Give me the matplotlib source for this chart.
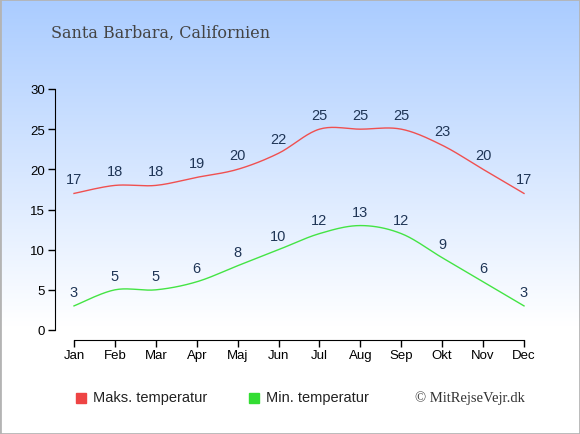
import numpy as np
import matplotlib
matplotlib.use("Agg")
import matplotlib.pyplot as plt
from matplotlib.colors import LinearSegmentedColormap
from matplotlib.patches import Rectangle

months = ["Jan", "Feb", "Mar", "Apr", "Maj", "Jun", "Jul", "Aug", "Sep", "Okt", "Nov", "Dec"]
max_temp = [17, 18, 18, 19, 20, 22, 25, 25, 25, 23, 20, 17]
min_temp = [3, 5, 5, 6, 8, 10, 12, 13, 12, 9, 6, 3]
y_ticks = [0, 5, 10, 15, 20, 25, 30]
title = "Santa Barbara, Californien"
legend_labels = ["Maks. temperatur", "Min. temperatur"]
credit = "© MitRejseVejr.dk"

plt.rcParams["font.family"] = ["Liberation Sans", "DejaVu Sans"]

W, H = 580, 435
fig = plt.figure(figsize=(W / 100, H / 100), dpi=100)

# background gradient
bg = fig.add_axes([0, 0, 1, 1], zorder=-10)
grad = np.linspace(0, 1, 256).reshape(-1, 1)
cmap = LinearSegmentedColormap.from_list("bg", [(0, "#aaccff"), (0.75, "#ffffff"), (1, "#ffffff")])
bg.imshow(grad, aspect="auto", cmap=cmap, extent=[0, 1, 0, 1], origin="upper")
bg.add_patch(Rectangle((0, 0), 1, 1, transform=bg.transAxes, fill=False, edgecolor="#b4b4b4", lw=2))
bg.set_xlim(0, 1); bg.set_ylim(0, 1)
bg.axis("off")


def smooth(xs, ys, n=20, tension=0.5):
    xs = np.asarray(xs, float); ys = np.asarray(ys, float)
    px = np.concatenate([[xs[0]], xs, [xs[-1]]])
    py = np.concatenate([[ys[0]], ys, [ys[-1]]])
    ox, oy = [], []
    for i in range(1, len(px) - 2):
        x0, x1, x2, x3 = px[i - 1:i + 3]
        y0, y1, y2, y3 = py[i - 1:i + 3]
        t = np.linspace(0, 1, n, endpoint=False)
        m1x, m2x = tension * (x2 - x0), tension * (x3 - x1)
        m1y, m2y = tension * (y2 - y0), tension * (y3 - y1)
        h00 = 2 * t**3 - 3 * t**2 + 1
        h10 = t**3 - 2 * t**2 + t
        h01 = -2 * t**3 + 3 * t**2
        h11 = t**3 - t**2
        ox.extend(h00 * x1 + h10 * m1x + h01 * x2 + h11 * m2x)
        oy.extend(h00 * y1 + h10 * m1y + h01 * y2 + h11 * m2y)
    ox.append(xs[-1]); oy.append(ys[-1])
    return np.array(ox), np.array(oy)


left_px, right_px, top_px, bot_px = 55, 535, 90, 341
ax = fig.add_axes([left_px / W, (H - bot_px) / H, (right_px - left_px) / W, (bot_px - top_px) / H])
ax.patch.set_alpha(0)
x = np.arange(len(months))
xscale = (524 - 74) / 11
ax.set_xlim(-(74 - left_px) / xscale, (right_px - 74) / xscale)
yscale = (331 - 90) / 30
ax.set_ylim(-(bot_px - 331) / yscale, 30)

red = "#ee4444"
green = "#33dd33"
sx, sy = smooth(x, max_temp)
ax.plot(sx, sy, color="#f05050", lw=1)
sx, sy = smooth(x, min_temp)
ax.plot(sx, sy, color="#44e444", lw=1)

lab_col = "#1f3556"
for xi, v in zip(x, max_temp):
    ax.annotate(str(v), (xi, v), xytext=(0, 5), textcoords="offset points", ha="center", va="bottom",
                fontsize=10.5, color=lab_col)
for xi, v in zip(x, min_temp):
    ax.annotate(str(v), (xi, v), xytext=(0, 5), textcoords="offset points", ha="center", va="bottom",
                fontsize=10.5, color=lab_col)

for s in ["top", "right"]:
    ax.spines[s].set_visible(False)
ax.spines["left"].set_bounds(0, 30)
ax.spines["bottom"].set_bounds(0, 11)
ax.set_xticks(x)
ax.set_xticklabels(months)
ax.set_yticks(y_ticks)
ax.tick_params(axis="both", labelsize=9.5, colors="black", length=5, width=1)
ax.tick_params(axis="x", pad=1.5)
ax.tick_params(axis="y", pad=2)

fig.text(51 / W, 1 - 33 / H, title, family="DejaVu Serif", fontsize=11.5, color="#444444", va="center", ha="left")

# legend
fig.patches.append(Rectangle((76 / W, 1 - 404 / H), 10 / W, 10 / H, transform=fig.transFigure, color=red))
fig.text(93 / W, 1 - 398 / H, legend_labels[0], fontsize=10.5, va="center", ha="left", color="#222222")
fig.patches.append(Rectangle((249 / W, 1 - 404 / H), 10 / W, 10 / H, transform=fig.transFigure, color=green))
fig.text(266 / W, 1 - 398 / H, legend_labels[1], fontsize=10.5, va="center", ha="left", color="#222222")
fig.text(525 / W, 1 - 398 / H, credit, family="Liberation Serif", fontsize=10.5, va="center", ha="right", color="#333333")

fig.savefig("out.png", dpi=100)
